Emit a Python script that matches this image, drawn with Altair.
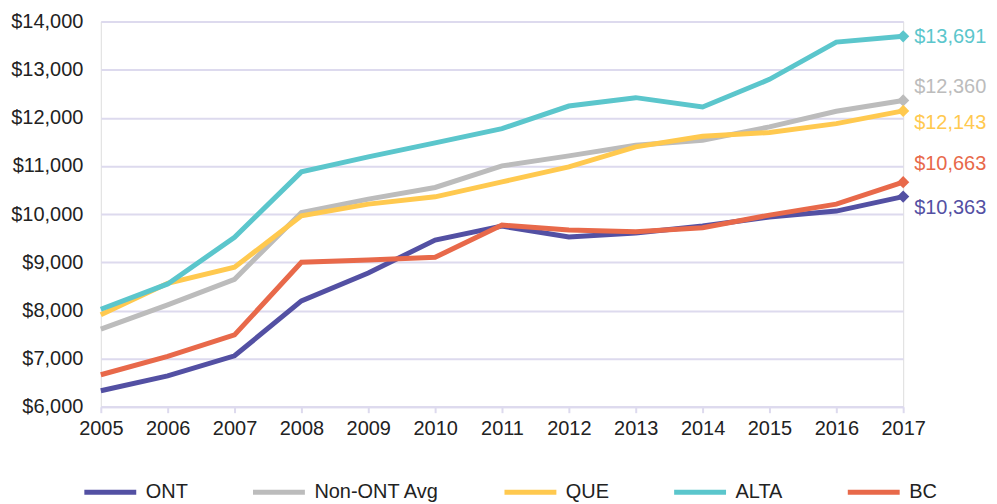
import altair as alt
import pandas as pd

years = list(range(2005, 2018))
series = ["ONT", "Non-ONT Avg", "QUE", "ALTA", "BC"]
colors = ["#5350a3", "#bcbcbc", "#ffc94f", "#5bc6cc", "#e8694a"]

ont = [6332, 6640, 7057, 8197, 8777, 9461, 9750, 9523, 9606, 9751, 9938, 10062, 10363]
non_ont = [7610, 8114, 8646, 10034, 10311, 10553, 11001, 11209, 11430, 11534, 11810, 12135, 12360]
que = [7907, 8563, 8895, 9965, 10207, 10358, 10669, 10980, 11396, 11617, 11693, 11879, 12143]
alta = [8024, 8549, 9517, 10877, 11188, 11479, 11776, 12244, 12418, 12224, 12798, 13571, 13691]
bc = [6663, 7043, 7492, 8999, 9047, 9102, 9772, 9668, 9634, 9716, 9979, 10207, 10663]

label_dy = [11, -13, 12, 1, -18]

values = [ont, non_ont, que, alta, bc]
rows = []
for name, vals in zip(series, values):
    for y, v in zip(years, vals):
        rows.append({"Year": y, "Value": v, "Series": name})
df = pd.DataFrame(rows)
last = df[df["Year"] == 2017]

FONT = "Liberation Sans"
GRID = "#dddaee"
FS = 20

color = alt.Color(
    "Series:N",
    scale=alt.Scale(domain=series, range=colors),
    legend=alt.Legend(
        title=None,
        orient="none",
        direction="horizontal",
        columns=5,
        legendX=-19,
        legendY=443,
        symbolType="stroke",
        symbolSize=2704,
        symbolStrokeWidth=5,
        labelFontSize=FS,
        labelFont=FONT,
        labelColor="#222222",
        labelOffset=7,
        columnPadding=54,
    ),
)

x = alt.X(
    "Year:Q",
    scale=alt.Scale(domain=[2005, 2017], nice=False, zero=False),
    axis=alt.Axis(
        title=None,
        values=years,
        format="d",
        labelFontSize=FS,
        labelFont=FONT,
        labelColor="#222222",
        labelPadding=6,
        labelFlush=False,
        labelOverlap=False,
        grid=False,
        domainColor=GRID,
        domainWidth=2,
        tickColor=GRID,
        tickWidth=2,
        tickSize=6,
    ),
)
y = alt.Y(
    "Value:Q",
    scale=alt.Scale(domain=[6000, 14000], nice=False, zero=False),
    axis=alt.Axis(
        title=None,
        values=list(range(6000, 14001, 1000)),
        format="$,.0f",
        labelFontSize=FS,
        labelFont=FONT,
        labelColor="#222222",
        labelPadding=18,
        labelFlush=False,
        ticks=False,
        domain=False,
        gridColor=GRID,
        gridWidth=2,
    ),
)

lines = alt.Chart(df).mark_line(strokeWidth=5).encode(x=x, y=y, color=color)
points = alt.Chart(last).mark_point(shape="diamond", filled=True, size=150, opacity=1).encode(
    x="Year:Q", y="Value:Q", color=alt.Color("Series:N", legend=None, scale=alt.Scale(domain=series, range=colors))
)

texts = []
for name, col, dy in zip(series, colors, label_dy):
    texts.append(
        alt.Chart(last[last["Series"] == name])
        .mark_text(align="left", baseline="middle", dx=11, dy=dy, fontSize=FS, font=FONT, color=col)
        .encode(x="Year:Q", y="Value:Q", text=alt.Text("Value:Q", format="$,.0f"))
    )

chart = (
    alt.layer(lines, points, *texts)
    .properties(
        width=804,
        height=386,
        autosize=alt.AutoSizeParams(type="none"),
        padding={"left": 93, "top": 13, "right": 86, "bottom": 96},
    )
    .configure_view(stroke=None)
    .configure(font=FONT)
)

chart.save("out.html", embed_options={"renderer": "svg", "actions": False})
